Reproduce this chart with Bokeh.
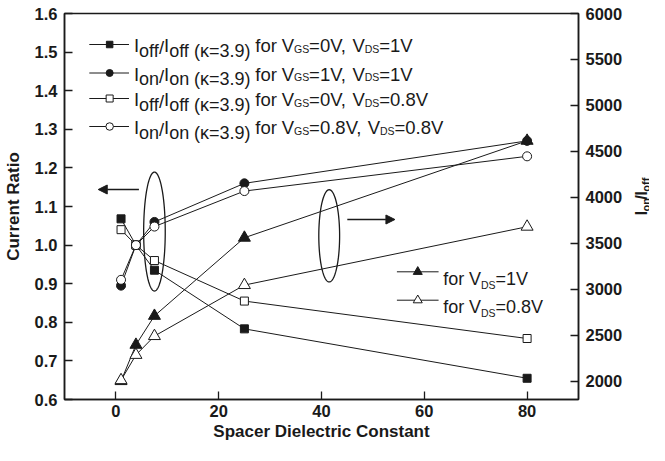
import math
import numpy as np
from bokeh.plotting import figure
from bokeh.layouts import row
from bokeh.models import (Range1d, LinearAxis, FixedTicker, NumeralTickFormatter,
                          Label, Arrow, NormalHead)
from bokeh.embed import file_html
from bokeh.resources import INLINE

# ---------------- data ----------------
kappa = [1, 3.9, 7.5, 25, 80]
ioff_vds1 = [1.068, 1.0, 0.935, 0.783, 0.655]
ion_vds1 = [0.895, 1.0, 1.06, 1.16, 1.27]
ioff_vds08 = [1.04, 1.0, 0.96, 0.855, 0.758]
ion_vds08 = [0.91, 1.0, 1.048, 1.14, 1.23]
onoff_vds1 = [2000, 2395, 2710, 3560, 4615]
onoff_vds08 = [2010, 2285, 2490, 3045, 3680]

x_ticks = [0, 20, 40, 60, 80]
left_ticks = [0.6, 0.7, 0.8, 0.9, 1.0, 1.1, 1.2, 1.3, 1.4, 1.5, 1.6]
right_ticks = [2000, 2500, 3000, 3500, 4000, 4500, 5000, 5500, 6000]

# ellipses (centre x, centre y, width, height) in left-axis data units
ell_x = [7.5, 41.5]
ell_y = [1.035, 1.024]
ell_w = [4.2, 4.05]
ell_h = [0.308, 0.239]

FONT = "Liberation Sans"
INK = "#1a1a1a"

# reference-pixel -> data helpers (for annotation placement only)
FL, FR, FT, FB = 65, 583, 15, 401
XMIN, XMAX, YMIN, YMAX = -10, 90, 0.6, 1.6
H = 445
W1 = 625


def px2x(px):
    return XMIN + (px - FL) * (XMAX - XMIN) / (FR - FL)


def px2y(py):
    return YMAX - (py - FT) * (YMAX - YMIN) / (FB - FT)


BL, BT = 62, 13
p = figure(width=W1, height=H,
           min_border_left=BL, min_border_right=W1 - BL - (FR - FL),
           min_border_top=BT, min_border_bottom=H - BT - (FB - FT),
           x_range=Range1d(XMIN, XMAX), y_range=Range1d(YMIN, YMAX),
           output_backend="svg", toolbar_location=None, tools="")
p.extra_y_ranges = {"right": Range1d(1800, 6000)}
p.xgrid.grid_line_color = None
p.ygrid.grid_line_color = None
p.outline_line_color = INK
p.outline_line_width = 1.5
p.background_fill_color = "white"
p.border_fill_color = "white"


def style_axis(ax, standoff):
    ax.axis_line_color = INK
    ax.axis_line_width = 1.5
    ax.major_tick_in = 8
    ax.major_tick_out = 0
    ax.major_tick_line_color = INK
    ax.major_tick_line_width = 1.3
    ax.minor_tick_line_color = None
    ax.major_label_text_font = FONT
    ax.major_label_text_font_style = "bold"
    ax.major_label_text_font_size = "16.5px"
    ax.major_label_text_color = INK
    ax.major_label_standoff = standoff
    ax.axis_label_text_font = FONT
    ax.axis_label_text_font_style = "bold"
    ax.axis_label_text_font_size = "17px"
    ax.axis_label_text_color = INK


xa = p.xaxis[0]
xa.ticker = FixedTicker(ticks=x_ticks)
xa.axis_label = "Spacer Dielectric Constant"
style_axis(xa, 5)
xa.axis_label_standoff = 2

ya = p.yaxis[0]
ya.ticker = FixedTicker(ticks=left_ticks)
ya.formatter = NumeralTickFormatter(format="0.0")
ya.axis_label = "Current Ratio"
style_axis(ya, 7)
ya.axis_label_standoff = 9

ra = LinearAxis(y_range_name="right", ticker=FixedTicker(ticks=right_ticks))
style_axis(ra, 7)
p.add_layout(ra, "right")

LW = 1.0
# lines
p.line(kappa, ioff_vds1, line_color=INK, line_width=LW)
p.line(kappa, ion_vds1, line_color=INK, line_width=LW)
p.line(kappa, ioff_vds08, line_color=INK, line_width=LW)
p.line(kappa, ion_vds08, line_color=INK, line_width=LW)
p.line(kappa, onoff_vds1, line_color=INK, line_width=LW, y_range_name="right")
p.line(kappa, onoff_vds08, line_color=INK, line_width=LW, y_range_name="right")

# filled markers
p.scatter(kappa, ioff_vds1, marker="square", size=8, fill_color=INK, line_color=INK)
p.scatter(kappa, ion_vds1, marker="circle", size=9, fill_color=INK, line_color=INK)
p.scatter(kappa, onoff_vds1, marker="triangle", size=12, fill_color=INK, line_color=INK,
          y_range_name="right")
# open markers
p.scatter(kappa, ioff_vds08, marker="square", size=8, fill_color="white", line_color=INK, line_width=1)
p.scatter(kappa, ion_vds08, marker="circle", size=9, fill_color="white", line_color=INK, line_width=1)
p.scatter(kappa, onoff_vds08, marker="triangle", size=12, fill_color="white", line_color=INK,
          line_width=1, y_range_name="right")

# ellipse outlines (annotation shapes)
t = np.linspace(0, 2 * np.pi, 145)
for cx, cy, w, h in zip(ell_x, ell_y, ell_w, ell_h):
    p.line(cx + w / 2 * np.cos(t), cy + h / 2 * np.sin(t), line_color=INK, line_width=1.3)

p.add_layout(Arrow(end=NormalHead(size=9, fill_color=INK, line_color=INK),
                   x_start=px2x(140), y_start=px2y(191), x_end=px2x(99), y_end=px2y(191),
                   line_color=INK, line_width=1.5))
p.add_layout(Arrow(end=NormalHead(size=9, fill_color=INK, line_color=INK),
                   x_start=px2x(350), y_start=px2y(221), x_end=px2x(398), y_end=px2y(221),
                   line_color=INK, line_width=1.5))

# ---------- text fragments ----------
W_REG = {' ': .278, '(': .333, ')': .333, ',': .278, '.': .278, '/': .278, '=': .584,
         'D': .722, 'G': .778, 'I': .278, 'S': .667, 'V': .667, 'f': .278, 'n': .556,
         'o': .556, 'r': .333, 'κ': .5}
W_BOLD = {'I': .278, 'o': .611, 'n': .611, '/': .278, 'f': .333}


def tw(s, size, bold=False):
    tab = W_BOLD if bold else W_REG
    return sum(tab.get(c, .556) for c in s) * size


def frags(fig, x0, base, parts, bold=False, vertical=False, conv=(px2x, px2y)):
    cx, cy = conv
    pos = x0
    for text, size, dy in parts:
        if text == " ":
            pos += (-1 if vertical else 1) * tw(" ", size, bold)
            continue
        if vertical:
            lab = Label(x=cx(base + dy), y=cy(pos), text=text, angle=math.pi / 2,
                        text_font=FONT, text_font_size=f"{size}px",
                        text_font_style="bold" if bold else "normal",
                        text_baseline="alphabetic", text_align="left", text_color=INK)
            pos -= tw(text, size, bold)
        else:
            lab = Label(x=cx(pos), y=cy(base + dy), text=text,
                        text_font=FONT, text_font_size=f"{size}px",
                        text_font_style="bold" if bold else "normal",
                        text_baseline="alphabetic", text_align="left", text_color=INK)
            pos += tw(text, size, bold)
        fig.add_layout(lab)


# left legend
leg_rows = [46, 74.5, 100, 128]
leg_markers = [("square", INK, 6.5), ("circle", INK, 7), ("square", "white", 7), ("circle", "white", 7.5)]
leg_sub = ["off", "on", "off", "on"]
leg_vgs = ["0V", "1V", "0V", "0.8V"]
leg_vds = ["1V", "1V", "0.8V", "0.8V"]
for ry, (mk, fc, sz), sub, vgs, vds in zip(leg_rows, leg_markers, leg_sub, leg_vgs, leg_vds):
    p.line([px2x(90), px2x(130)], [px2y(ry), px2y(ry)], line_color=INK, line_width=LW)
    p.scatter([px2x(110.5)], [px2y(ry)], marker=mk, size=sz, fill_color=fc, line_color=INK)
    b = ry + 1
    frags(p, 135, b, [("I", 18.5, 0), (sub, 18, 5), ("/", 18.5, 2), ("I", 18.5, 0), (sub, 18, 5),
                      (" ", 18.5, 0), ("(κ=3.9)", 18, 5), (" ", 18.5, 0), ("for", 18.5, 0),
                      (" ", 18.5, 0), ("V", 18.5, 0), ("GS", 10.5, 3),
                      ("=" + vgs + ",", 18.5, 0), (" ", 18.5, 0), ("V", 18.5, 0), ("DS", 10.5, 3),
                      ("=" + vds, 18.5, 0)])

# right legend
for ry, fc, vds in zip([273.3, 301.7], [INK, "white"], ["1V", "0.8V"]):
    p.line([px2x(400), px2x(442)], [px2y(ry), px2y(ry)], line_color=INK, line_width=LW)
    p.scatter([px2x(421)], [px2y(ry)], marker="triangle", size=9, fill_color=fc, line_color=INK)
    frags(p, 446.7, ry + 6.7, [("for", 18, 0), (" ", 18, 0), ("V", 18, 0), ("DS", 10.5, 6),
                               ("=" + vds, 18, 0)])

# right axis title  I_on / I_off (rotated), drawn in a narrow companion panel
X2L = 8 + W1
p2 = figure(width=24, height=H, x_range=Range1d(X2L, X2L + 24), y_range=Range1d(8 + H, 8),
            x_axis_type=None, y_axis_type=None, output_backend="svg", title=None,
            toolbar_location=None, tools="",
            min_border_left=0, min_border_right=0, min_border_top=0, min_border_bottom=0)
p2.outline_line_color = None
p2.xgrid.grid_line_color = None
p2.ygrid.grid_line_color = None
p2.border_fill_color = "white"
frags(p2, 241, 649, [("I", 17, 0), ("on", 11, 4.5), ("/", 17, 0), ("I", 17, 0), ("off", 11, 4.5)],
      bold=True, vertical=True, conv=(lambda v: v, lambda v: v))

page = row(p, p2, spacing=0)
open("out.html", "w").write(file_html(page, INLINE))
